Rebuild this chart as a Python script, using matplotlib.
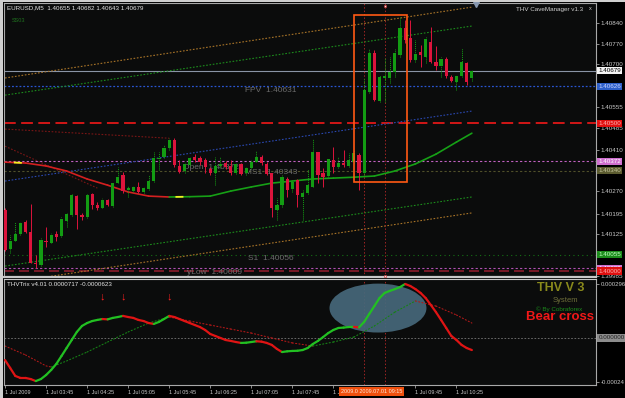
import numpy as np
import matplotlib
matplotlib.use('Agg')
from matplotlib import pyplot as plt
import matplotlib.patches as patches
from matplotlib.collections import LineCollection
from matplotlib.transforms import blended_transform_factory

plt.rcParams['font.family'] = ['Liberation Sans', 'DejaVu Sans']

# ---- EURUSD M5 candles (1 Jul 2009, 03:05 .. 10:40) ----
opens = [1.40207, 1.40075, 1.40102, 1.40125, 1.40166, 1.40132, 1.40027, 1.40020, 1.40102, 1.40095,
         1.40125, 1.40119, 1.40169, 1.40190, 1.40254, 1.40190, 1.40183, 1.40261, 1.40224, 1.40213,
         1.40241, 1.40220, 1.40298, 1.40325, 1.40274, 1.40271, 1.40285, 1.40268, 1.40278, 1.40305,
         1.40379, 1.40386, 1.40417, 1.40444, 1.40356, 1.40339, 1.40359, 1.40386, 1.40383, 1.40376,
         1.40346, 1.40332, 1.40356, 1.40366, 1.40356, 1.40332, 1.40363, 1.40332, 1.40349, 1.40369,
         1.40386, 1.40363, 1.40332, 1.40207, 1.40224, 1.40312, 1.40278, 1.40308, 1.40251, 1.40264,
         1.40285, 1.40403, 1.40332, 1.40322, 1.40376, 1.40352, 1.40366, 1.40356, 1.40369, 1.40393,
         1.40332, 1.40606, 1.40738, 1.40576, 1.40654, 1.40654, 1.40674, 1.40732, 1.40823, 1.40789,
         1.40715, 1.40742, 1.40725, 1.40776, 1.40708, 1.40694, 1.40718, 1.40657, 1.40640, 1.40660,
         1.40705, 1.40655]
highs = [1.40213, 1.40122, 1.40166, 1.40166, 1.40173, 1.40227, 1.40054, 1.40112, 1.40149, 1.40129,
         1.40136, 1.40183, 1.40196, 1.40261, 1.40257, 1.40196, 1.40261, 1.40264, 1.40234, 1.40247,
         1.40244, 1.40302, 1.40352, 1.40335, 1.40288, 1.40288, 1.40302, 1.40285, 1.40325, 1.40403,
         1.40403, 1.40427, 1.40451, 1.40451, 1.40376, 1.40366, 1.40386, 1.40396, 1.40390, 1.40383,
         1.40352, 1.40386, 1.40386, 1.40373, 1.40376, 1.40366, 1.40366, 1.40352, 1.40376, 1.40406,
         1.40393, 1.40369, 1.40332, 1.40247, 1.40325, 1.40318, 1.40308, 1.40312, 1.40274, 1.40346,
         1.40447, 1.40403, 1.40349, 1.40383, 1.40420, 1.40386, 1.40410, 1.40400, 1.40410, 1.40400,
         1.40654, 1.40752, 1.40748, 1.40664, 1.40721, 1.40725, 1.40752, 1.40860, 1.40850, 1.40850,
         1.40782, 1.40766, 1.40792, 1.40826, 1.40762, 1.40725, 1.40725, 1.40664, 1.40664, 1.40755,
         1.40708, 1.40682]
lows = [1.40068, 1.40061, 1.40102, 1.40122, 1.40129, 1.40027, 1.40010, 1.40017, 1.40081, 1.40095,
        1.40102, 1.40115, 1.40149, 1.40186, 1.40142, 1.40173, 1.40180, 1.40210, 1.40207, 1.40213,
        1.40220, 1.40217, 1.40298, 1.40264, 1.40251, 1.40268, 1.40264, 1.40264, 1.40274, 1.40302,
        1.40342, 1.40383, 1.40410, 1.40352, 1.40332, 1.40332, 1.40356, 1.40369, 1.40359, 1.40332,
        1.40325, 1.40291, 1.40349, 1.40346, 1.40325, 1.40329, 1.40325, 1.40325, 1.40346, 1.40369,
        1.40359, 1.40325, 1.40183, 1.40173, 1.40217, 1.40251, 1.40268, 1.40217, 1.40173, 1.40261,
        1.40285, 1.40298, 1.40285, 1.40318, 1.40332, 1.40349, 1.40352, 1.40352, 1.40366, 1.40274,
        1.40325, 1.40603, 1.40576, 1.40572, 1.40572, 1.40637, 1.40657, 1.40725, 1.40772, 1.40708,
        1.40708, 1.40691, 1.40705, 1.40705, 1.40681, 1.40657, 1.40654, 1.40640, 1.40613, 1.40657,
        1.40630, 1.40643]
closes = [1.40071, 1.40102, 1.40125, 1.40163, 1.40132, 1.40027, 1.40024, 1.40105, 1.40098, 1.40122,
          1.40115, 1.40176, 1.40193, 1.40257, 1.40190, 1.40183, 1.40257, 1.40224, 1.40213, 1.40241,
          1.40224, 1.40298, 1.40318, 1.40271, 1.40281, 1.40285, 1.40268, 1.40281, 1.40305, 1.40383,
          1.40383, 1.40417, 1.40444, 1.40359, 1.40335, 1.40363, 1.40383, 1.40376, 1.40369, 1.40352,
          1.40332, 1.40356, 1.40363, 1.40352, 1.40332, 1.40363, 1.40329, 1.40349, 1.40369, 1.40386,
          1.40366, 1.40329, 1.40213, 1.40224, 1.40318, 1.40274, 1.40302, 1.40257, 1.40264, 1.40291,
          1.40403, 1.40325, 1.40318, 1.40379, 1.40352, 1.40366, 1.40359, 1.40376, 1.40400, 1.40332,
          1.40613, 1.40738, 1.40579, 1.40657, 1.40660, 1.40674, 1.40738, 1.40823, 1.40782, 1.40715,
          1.40735, 1.40732, 1.40786, 1.40708, 1.40694, 1.40718, 1.40660, 1.40644, 1.40660, 1.40708,
          1.40640, 1.40679]

# moving average (sampled every 4 bars)
ma_bars = [0, 4, 8, 12, 16, 20, 24, 28, 32, 36, 40, 44, 48, 52, 56, 60, 64, 68, 72, 76, 80, 84, 88, 91]
ma_vals = [1.40369, 1.40366, 1.40356, 1.40339, 1.40312, 1.40291, 1.40268, 1.40254, 1.40251, 1.40252,
           1.40254, 1.40271, 1.40285, 1.40298, 1.40305, 1.40312, 1.40315, 1.40318, 1.40322, 1.40339,
           1.40363, 1.40396, 1.40437, 1.40467]
ma_turns = [2.5, 34]

# channel / trend lines: (bar0, price0, bar1, price1, colour)
trend_lines = [(0, 1.40654, 91, 1.40894, '#a87428'),
               (0, 1.40596, 91, 1.40830, '#1c8c1c'),
               (0, 1.40305, 91, 1.40542, '#2a48b0'),
               (0, 1.40017, 91, 1.40251, '#1c8c1c'),
               (0, 1.39959, 91, 1.40197, '#a87428'),
               (0, 1.40481, 32, 1.40450, '#7a1616'),
               (0, 1.40423, 18, 1.40281, '#7a1616')]

# horizontal levels: price, colour, linestyle, width
levels = [(1.40679, '#8a94a6', '-', 0.8),
          (1.40626, '#2a55d0', (0, (1.5, 1.5)), 0.9),
          (1.40500, '#e01818', (0, (6.5, 3)), 1.3),
          (1.40372, '#c060c0', (0, (2, 2)), 0.8),
          (1.40340, '#50502a', (0, (2, 2)), 0.8),
          (1.40055, '#157015', (0, (1, 3)), 0.8),
          (1.40009, '#b050b0', (0, (2, 2)), 0.8),
          (1.40000, '#8c1c2c', (0, (6, 3)), 1.2)]
level_labels = [(1.40679, '#f4f4f4', '#000000'),
                (1.40626, '#2e5fc8', '#c8d4ff'),
                (1.40500, '#e01010', '#ffb0b0'),
                (1.40372, '#d070d0', '#ffffff'),
                (1.40340, '#5c5c30', '#c8c8a0'),
                (1.40055, '#1c8c1c', '#c0ffc0'),
                (1.40009, '#d070d0', '#ffffff'),
                (1.40000, '#e01010', '#ffb0b0')]
price_ticks = [1.40840, 1.40770, 1.40700, 1.40555, 1.40485, 1.40410, 1.40270, 1.40195, 1.40125, 1.39985]

# chart notes: (bar, price, text)
notes = [(46.8, 1.40613, 'FPV  1.40631'),
         (34.6, 1.40351, 'Open  1.40372'),
         (46.8, 1.40333, 'MS1  1.40343'),
         (47.4, 1.40044, 'S1  1.40056'),
         (35.4, 1.39996, 'yLow  1.40009')]

box_bars = (68.0, 78.4)
box_prices = (1.40302, 1.40867)
vlines_bars = [70, 74]

# ---- THVTrix oscillator (x1e-6) ----
trix = np.array([-121, -164, -208, -219, -219, -225, -236, -225, -203, -175,
                 -142, -99, -55, -11, 33, 66, 82, 93, 99, 104,
                 102, 110, 115, 121, 115, 110, 99, 93, 82, 77,
                 88, 104, 121, 115, 104, 93, 82, 71, 60, 44,
                 22, 11, 0, -11, -16, -22, -27, -26, -22, -18,
                 -20, -27, -38, -60, -77, -73, -71, -70, -66, -55,
                 -33, -16, 5, 27, 44, 55, 57, 60, 61, 58,
                 88, 132, 175, 219, 247, 258, 268, 279, 296, 285,
                 268, 247, 219, 181, 142, 99, 55, 11, -11, -38,
                 -55, -66]) * 1e-6
sig_bars = [0, 4, 8, 9, 12, 16, 20, 24, 28, 32, 36, 40, 44, 48, 52, 56, 60, 64, 68, 72, 76, 80, 84, 88, 91]
sig_vals = np.array([-44, -93, -153, -159, -126, -77, -22, 33, 82, 115, 93, 71, 49, 27, 0, -27, -44,
                     -22, 5, 66, 142, 203, 175, 126, 82]) * 1e-6
arrow_bars = [19, 23, 32]
arrow_level = 225e-6
osc_ticks = [0.000296, -0.00024]
osc_ticklabels = ['0.000296', '-0.00024']

time_ticks = [0, 8, 16, 24, 32, 40, 48, 56, 64, 80, 88]
time_labels = ['1 Jul 2009', '1 Jul 03:45', '1 Jul 04:25', '1 Jul 05:05', '1 Jul 05:45', '1 Jul 06:25',
               '1 Jul 07:05', '1 Jul 07:45', '1 Jul 08:25', '1 Jul 09:45', '1 Jul 10:25']

BG = '#0b0c0c'
GREEN = '#139c13'
RED = '#dc143c'
TXT = '#c8c8c8'

W, H = 625, 398


def px_box(x0, y0, x1, y1):
    return [x0 / W, 1 - y1 / H, (x1 - x0) / W, (y1 - y0) / H]


def color_segments(ax, x, y, lw, ls='-', up='#22c022', down='#e01414', z=3):
    pts = np.column_stack([x, y])
    segs = np.stack([pts[:-1], pts[1:]], axis=1)
    cols = [up if b > a else down for a, b in zip(y[:-1], y[1:])]
    lc = LineCollection(segs, colors=cols, linewidths=lw, linestyles=ls, zorder=z, capstyle='round')
    ax.add_collection(lc)


fig = plt.figure(figsize=(W / 100, H / 100), dpi=100, facecolor='#000000')
ax = fig.add_axes(px_box(4, 3, 596, 277))
ax2 = fig.add_axes(px_box(4, 279, 596, 385))
xlim = (-0.2, 115.2)

# ---------------- main price panel ----------------
ax.set_facecolor(BG)
ax.set_xlim(*xlim)
ax.set_ylim(1.39980, 1.40908)

for p, c, ls, lw in levels:
    ax.axhline(p, color=c, ls=ls, lw=lw, zorder=1)

for b0, p0, b1, p1, c in trend_lines:
    ax.plot([b0, b1], [p0, p1], color=c, ls=(0, (1.5, 1.5)), lw=0.8, zorder=1)

for b in vlines_bars:
    ax.axvline(b, color='#a02424', ls=(0, (1.5, 2)), lw=0.7, zorder=1)
    ax2.axvline(b, color='#a02424', ls=(0, (1.5, 2)), lw=0.7, zorder=1)

for b, p, t in notes:
    ax.text(b, p, t, color='#6c6c6c', fontsize=6, va='center', ha='left', zorder=1.5)

o = np.array(opens); h = np.array(highs); l = np.array(lows); c = np.array(closes)
idx = np.arange(len(o))
up = c >= o
ax.vlines(idx[up], l[up], h[up], colors=GREEN, lw=0.7, ls=(0, (1, 1)), zorder=4)
ax.vlines(idx[~up], l[~up], h[~up], colors=RED, lw=0.7, zorder=4)
body = np.maximum(np.abs(c - o), 0.00002)
ax.bar(idx, body, bottom=np.minimum(o, c), width=0.62,
       color=np.where(up, GREEN, RED), linewidth=0, zorder=5)

ma_x = np.array(ma_bars, dtype=float)
ma_y = np.array(ma_vals)
color_segments(ax, ma_x, ma_y, 1.2, up='#16a016', down='#d42020', z=3)
for t in ma_turns:
    xs = np.array([t - 0.6, t + 0.6])
    ax.plot(xs, np.interp(xs, ma_x, ma_y), color='#f0f020', lw=1.3, zorder=3.5)

ax.add_patch(patches.Rectangle((box_bars[0], box_prices[0]), box_bars[1] - box_bars[0],
                               box_prices[1] - box_prices[0], fill=False, ec='#ff5a14', lw=1.2, zorder=6))

ax.set_xticks([])
ax.yaxis.tick_right()
ax.set_yticks(price_ticks)
ax.set_yticklabels(['%.5f' % p for p in price_ticks])
ax.tick_params(axis='y', colors='#a0a0a0', labelcolor=TXT, labelsize=4.5, length=2, width=0.6, pad=1.5)
for s in ax.spines.values():
    s.set_color('#a8a8a8'); s.set_linewidth(0.8)
ax.spines['bottom'].set_color('#c8c8c8'); ax.spines['bottom'].set_linewidth(1.6)

tr = blended_transform_factory(ax.transAxes, ax.transData)
for p, fc, tc in level_labels:
    ax.text(1.004, p, '%.5f' % p, transform=tr, fontsize=4.5, color=tc, ha='left', va='center',
            bbox=dict(boxstyle='square,pad=0.18', fc=fc, ec='none'), zorder=7, clip_on=False)

trt = blended_transform_factory(ax.transData, ax.transAxes)
ax.plot([91.8], [0.995], marker='v', ms=4, color='#8898b0', transform=trt, clip_on=False, zorder=8)
ax.plot([74], [0.99], marker='s', ms=2, color='#f0e8e8', mec='#d02020', mew=0.4, transform=trt,
        clip_on=False, zorder=8)
ax.plot([74], [0.005], marker='s', ms=2, color='#f0e8e8', mec='#d02020', mew=0.4, transform=trt,
        clip_on=False, zorder=8)

# ---------------- oscillator panel ----------------
ax2.set_facecolor(BG)
ax2.set_xlim(*xlim)
ax2.set_ylim(-0.0002576, 0.0003233)
ax2.axhline(0, color='#787878', ls=(0, (2, 2)), lw=0.6, zorder=1)

ax2.add_patch(patches.Ellipse((72.7, 164e-6), 18.9, 268e-6, fc='#46687a', ec='none', alpha=0.92, zorder=1.2))

color_segments(ax2, np.array(sig_bars, dtype=float), sig_vals, 0.8, ls=(0, (1, 2)),
               up='#168016', down='#b01818', z=2)
color_segments(ax2, idx.astype(float), trix, 1.6, up='#22c022', down='#e01414', z=3)

for b in arrow_bars:
    ax2.text(b, arrow_level, '\u2193', color='#ff2020', fontsize=8, fontweight='bold',
             ha='center', va='center', zorder=4)

ax2.yaxis.tick_right()
ax2.set_yticks(osc_ticks)
ax2.set_yticklabels(osc_ticklabels)
ax2.tick_params(axis='y', colors='#a0a0a0', labelcolor=TXT, labelsize=4.3, length=2, width=0.6, pad=1.2)
ax2.set_xticks(time_ticks)
ax2.set_xticklabels(time_labels, ha='left')
ax2.tick_params(axis='x', colors='#a0a0a0', labelcolor=TXT, labelsize=4, length=2, width=0.6, pad=1.5)
for s in ax2.spines.values():
    s.set_color('#a8a8a8'); s.set_linewidth(0.8)
ax2.spines['top'].set_color('#c8c8c8')

tr2 = blended_transform_factory(ax2.transAxes, ax2.transData)
ax2.text(1.004, 0, '0.000000', transform=tr2, fontsize=4.5, color='#202020', ha='left', va='center',
         bbox=dict(boxstyle='square,pad=0.18', fc='#8c8c8c', ec='none'), zorder=7, clip_on=False)

# ---------------- captions ----------------
fig.text(7 / W, 1 - 8 / H, 'EURUSD,M5  1.40655 1.40682 1.40643 1.40679', fontsize=4.5,
         color='#e6e6e6', va='center')
fig.text(12 / W, 1 - 20 / H, 'SS03', fontsize=4, color='#1f701f', va='center')
fig.text(583 / W, 1 - 9 / H, 'THV CaveManager v1.3', fontsize=4.5, color='#d0d0d0', va='center', ha='right')
fig.text(590 / W, 1 - 9 / H, 'x', fontsize=4, color='#d0d0d0', va='center', ha='center')
fig.text(7 / W, 1 - 285 / H, 'THVTrix v4.01 0.0000717 -0.0000623', fontsize=4.5, color='#e6e6e6', va='center')

fig.text(561 / W, 1 - 288 / H, 'THV V 3', fontsize=9, fontweight='bold', color='#8a8a1c', ha='center', va='center')
fig.text(565 / W, 1 - 301 / H, 'System', fontsize=5.5, color='#6e6e3a', ha='center', va='center')
fig.text(559 / W, 1 - 309 / H, '\u00a9 By Cobraforex', fontsize=4.5, color='#1c8a1c', ha='center', va='center')
fig.text(560 / W, 1 - 317 / H, 'Bear cross', fontsize=9.5, fontweight='bold', color='#f01818', ha='center', va='center')

fig.text(341 / W, 1 - 391.5 / H, '2009.0 2009.07.01 09:15', fontsize=4, color='#ffe8d8', va='center',
         bbox=dict(boxstyle='square,pad=0.3', fc='#f0500e', ec='none'))

# window frame
fig.patches.append(patches.Rectangle((0, 0), 3 / W, 1, transform=fig.transFigure, fc='#cfcfcf', ec='none'))
fig.patches.append(patches.Rectangle((0, 1 - 1.5 / H), 1, 1.5 / H, transform=fig.transFigure, fc='#cfcfcf', ec='none'))

fig.savefig('out.png', dpi=100, facecolor=fig.get_facecolor())
